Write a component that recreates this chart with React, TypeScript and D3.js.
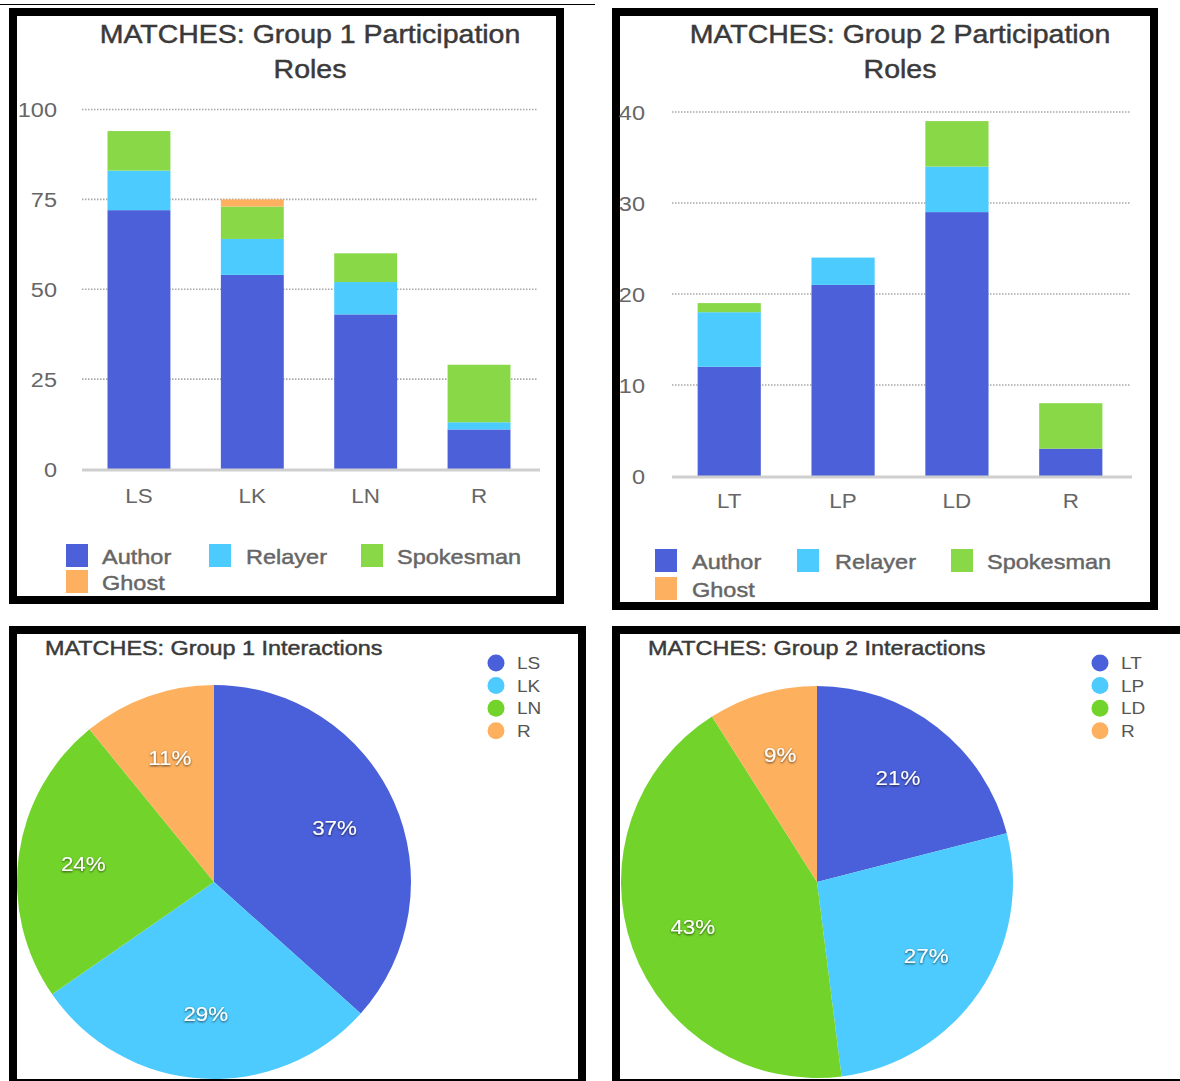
import React from 'react'
import * as d3 from 'd3'

// participation roles (stack order, bottom to top)
const roles = ['Author', 'Relayer', 'Spokesman', 'Ghost']
const roleColors = ['#4b60d9', '#4ccbfe', '#88d848', '#fdb05f']

// Group 1 participation
const group1Members = ['LS', 'LK', 'LN', 'R']
const group1Author = [72, 54, 43, 11]
const group1Relayer = [11, 10, 9, 2]
const group1Spokesman = [11, 9, 8, 16]
const group1Ghost = [0, 2, 0, 0]
const group1Ticks = [0, 25, 50, 75, 100]

// Group 2 participation
const group2Members = ['LT', 'LP', 'LD', 'R']
const group2Author = [12, 21, 29, 3]
const group2Relayer = [6, 3, 5, 0]
const group2Spokesman = [1, 0, 5, 5]
const group2Ghost = [0, 0, 0, 0]
const group2Ticks = [0, 10, 20, 30, 40]

// interactions (percent)
const group1Interactions = [37, 29, 24, 11]
const group2Interactions = [21, 27, 43, 9]
const pieColors = ['#4a60da', '#4ecbfe', '#72d42a', '#fdb15f']

const FONT = '"Liberation Sans", Arial, Helvetica, sans-serif'

interface Frame { x: number; y: number; w: number; h: number }

function Panel({ f }: { f: Frame }) {
  return <rect x={f.x} y={f.y} width={f.w} height={f.h} fill="#fff" stroke="#000" strokeWidth={8} />
}

// the source image is a bit stretched sideways, so text gets a horizontal scale
function SText({ x, y, sx = 1.12, size, fill = '#666', anchor = 'start', dy, heavy, filter, children }: any) {
  return (
    <text transform={`translate(${x},${y}) scale(${sx},1)`} dy={dy} textAnchor={anchor}
      fontSize={size} fill={fill} fontFamily={FONT} filter={filter}
      stroke={heavy ? fill : 'none'} strokeWidth={heavy ? 0.45 : 0}>{children}</text>
  )
}

interface BarChartProps {
  frame: Frame
  title: string[]
  titleX: number
  members: string[]
  series: number[][]
  ticks: number[]
  xRange: [number, number]
  yRange: [number, number]
  tickX: number
  labelY: number
  legendX: number[]
  legendTextX: number[]
  legendY: number[]
}

function BarChart(p: BarChartProps) {
  const rows = p.members.map((m, i) => {
    const r: any = { name: m }
    roles.forEach((role, k) => { r[role] = p.series[k][i] })
    return r
  })
  const stacked = d3.stack<any>().keys(roles)(rows)

  const x = d3.scaleBand<string>()
    .domain(p.members)
    .range(p.xRange)
    .paddingInner(0.445)
    .paddingOuter(0.225)

  const y = d3.scaleLinear()
    .domain([0, d3.max(p.ticks) || 0])
    .range(p.yRange)

  return (
    <g>
      <Panel f={p.frame} />
      {p.title.map((t, i) => (
        <SText key={t} x={p.titleX} y={p.frame.y + 31 + i * 35} anchor="middle" sx={1.14}
          size={25} fill="#3a3a3a" heavy>{t}</SText>
      ))}

      {/* dotted gridlines */}
      {p.ticks.filter(t => t > 0).map(t => (
        <line key={t} x1={p.xRange[0]} x2={p.xRange[1] + 2} y1={y(t)} y2={y(t)}
          stroke="#a8a8a8" strokeWidth={1.6} strokeDasharray="1.5,1.5" />
      ))}
      {p.ticks.map(t => (
        <SText key={'l' + t} x={p.tickX} y={y(t)} dy="0.38em" anchor="end" size={21}>{t}</SText>
      ))}

      {stacked.map((layer, k) => (
        <g key={layer.key} fill={roleColors[k]}>
          {layer.map((d, i) => d[1] - d[0] > 0 ? (
            <rect key={i} x={x(p.members[i])} width={x.bandwidth()}
              y={y(d[1])} height={y(d[0]) - y(d[1])} />
          ) : null)}
        </g>
      ))}

      <line x1={p.xRange[0]} x2={p.xRange[1] + 4} y1={y(0) + 1} y2={y(0) + 1} stroke="#cfcfcf" strokeWidth={3} />

      {p.members.map(m => (
        <SText key={m} x={(x(m) || 0) + x.bandwidth() / 2} y={p.labelY} anchor="middle" size={20}>{m}</SText>
      ))}

      {roles.map((role, k) => {
        const col = k % 3
        const row = Math.floor(k / 3)
        return (
          <g key={role}>
            <rect x={p.legendX[col]} y={p.legendY[row] - 12} width={22} height={23} fill={roleColors[k]} />
            <SText x={p.legendTextX[col]} y={p.legendY[row]} dy="0.36em" size={21} heavy>{role}</SText>
          </g>
        )
      })}
    </g>
  )
}

interface PieProps {
  frame: Frame
  title: string
  titleX: number
  cx: number
  cy: number
  r: number
  members: string[]
  values: number[]
  legendX: number
}

function PieChart(p: PieProps) {
  const arcs = d3.pie<number>().sort(null).value(d => d)(p.values)
  const arc = d3.arc<d3.PieArcDatum<number>>().innerRadius(0).outerRadius(p.r)
  const labelArc = d3.arc<d3.PieArcDatum<number>>().innerRadius(132).outerRadius(132)
  const clipId = 'clip-' + p.members[0]
  return (
    <g>
      <Panel f={p.frame} />
      <clipPath id={clipId}>
        <rect x={p.frame.x + 4} y={p.frame.y + 4} width={p.frame.w - 8} height={p.frame.h - 8} />
      </clipPath>
      <SText x={p.titleX} y={p.frame.y + 25} size={20} sx={1.17} fill="#3a3a3a" heavy>{p.title}</SText>
      <g clipPath={`url(#${clipId})`}>
        <g transform={`translate(${p.cx},${p.cy})`}>
          {arcs.map((a, i) => (
            <path key={i} d={arc(a) || ''} fill={pieColors[i]} />
          ))}
          {arcs.map((a, i) => {
            const [lx, ly] = labelArc.centroid(a)
            return (
              <SText key={'t' + i} x={lx} y={ly} dy="0.36em" anchor="middle" size={20}
                fill="#fff" filter="url(#shadow)">{p.values[i]}%</SText>
            )
          })}
        </g>
      </g>
      {p.members.map((m, i) => (
        <g key={m}>
          <circle cx={p.legendX} cy={p.frame.y + 33 + i * 22.6} r={8.5} fill={pieColors[i]} />
          <SText x={p.legendX + 21} y={p.frame.y + 33 + i * 22.6} dy="0.36em" size={17}
            fill="#555">{m}</SText>
        </g>
      ))}
    </g>
  )
}

export default function App() {
  return (
    <svg width={1180} height={1081} style={{ position: 'absolute', left: 0, top: 0, background: '#fff' }}>
      <defs>
        <filter id="shadow" x="-20%" y="-30%" width="140%" height="160%">
          <feDropShadow dx={0} dy={1} stdDeviation={0.8} floodColor="#000" floodOpacity={0.7} />
        </filter>
      </defs>
      <rect width={1180} height={1081} fill="#fff" />
      <line x1={0} x2={595} y1={4.5} y2={4.5} stroke="#000" strokeWidth={1} />

      <BarChart
        frame={{ x: 13, y: 12, w: 547, h: 588 }}
        title={['MATCHES: Group 1 Participation', 'Roles']}
        titleX={310}
        members={group1Members}
        series={[group1Author, group1Relayer, group1Spokesman, group1Ghost]}
        ticks={group1Ticks}
        xRange={[82, 536]}
        yRange={[469, 109.5]}
        tickX={57}
        labelY={503}
        legendX={[66, 209, 361]}
        legendTextX={[102, 246, 397]}
        legendY={[556, 582]}
      />
      <BarChart
        frame={{ x: 616, y: 12, w: 538, h: 594 }}
        title={['MATCHES: Group 2 Participation', 'Roles']}
        titleX={900}
        members={group2Members}
        series={[group2Author, group2Relayer, group2Spokesman, group2Ghost]}
        ticks={group2Ticks}
        xRange={[672, 1128]}
        yRange={[476, 112]}
        tickX={645}
        labelY={508}
        legendX={[655, 797, 951]}
        legendTextX={[692, 835, 987]}
        legendY={[561, 589]}
      />
      <PieChart
        frame={{ x: 13, y: 630, w: 569, h: 453 }}
        title="MATCHES: Group 1 Interactions"
        titleX={45}
        cx={214}
        cy={882}
        r={197}
        members={group1Members}
        values={group1Interactions}
        legendX={496}
      />
      <PieChart
        frame={{ x: 616, y: 630, w: 572, h: 453 }}
        title="MATCHES: Group 2 Interactions"
        titleX={648}
        cx={817}
        cy={882}
        r={196}
        members={group2Members}
        values={group2Interactions}
        legendX={1100}
      />
    </svg>
  )
}
